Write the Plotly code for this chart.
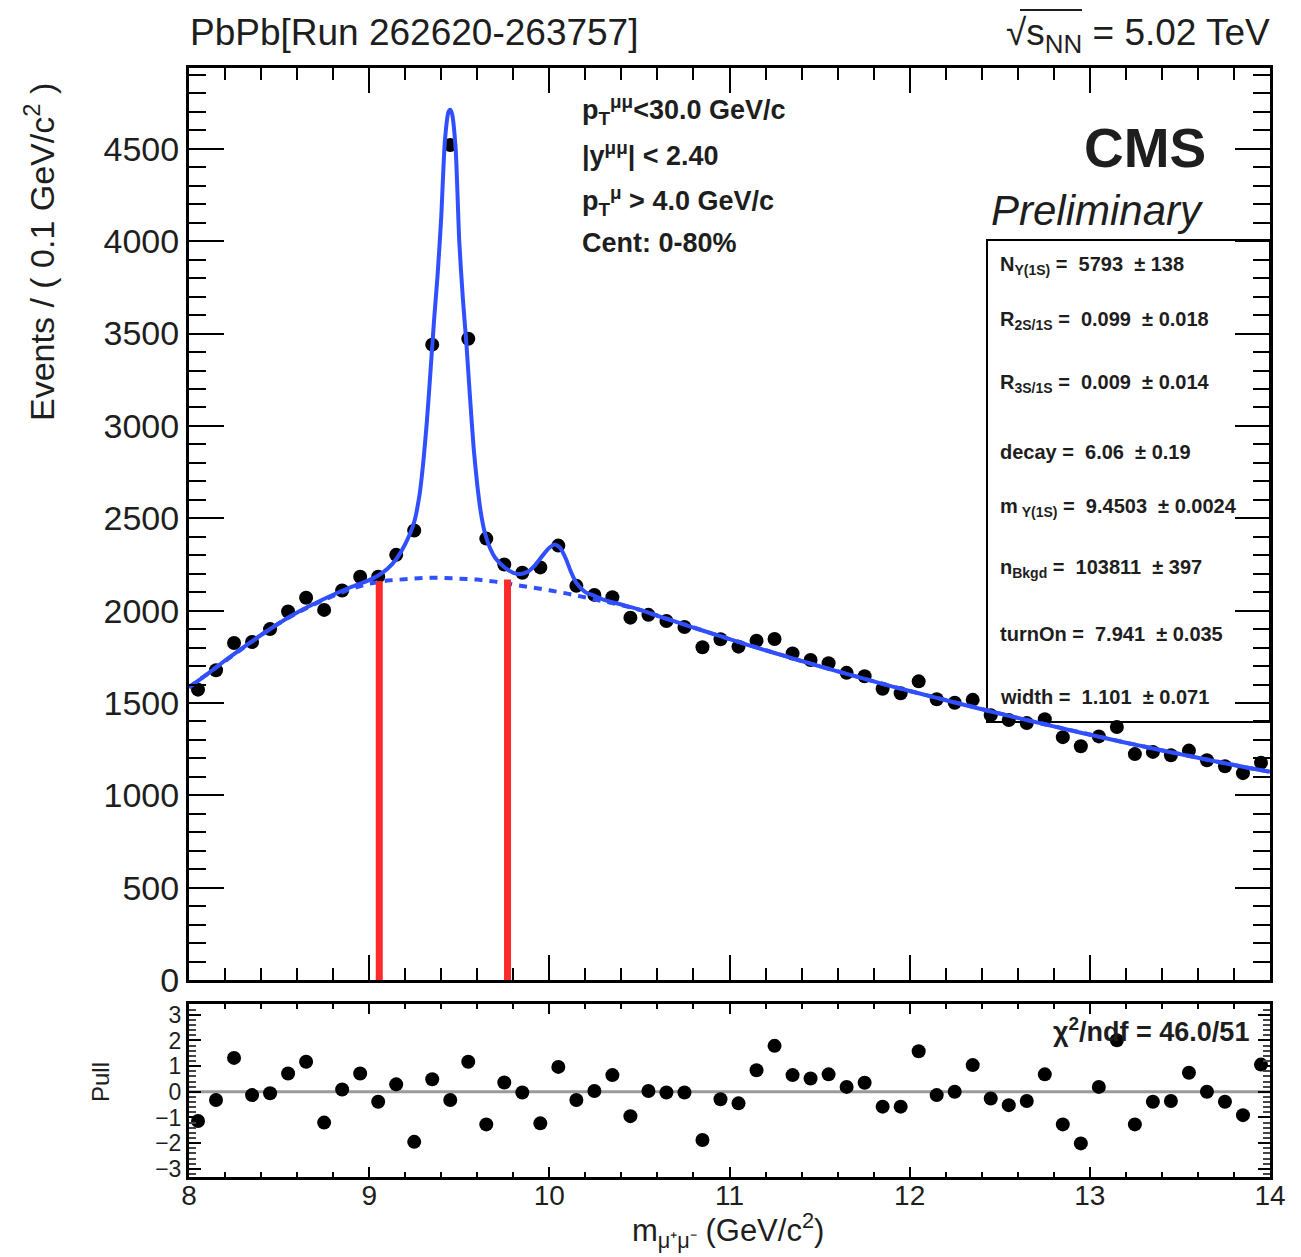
import plotly.graph_objects as go

# ---------------------------------------------------------------------------
# Data: dimuon invariant-mass spectrum (0.1 GeV/c^2 bins) with fit and pulls
# ---------------------------------------------------------------------------
mass = [8.05, 8.15, 8.25, 8.35, 8.45, 8.55, 8.65, 8.75, 8.85, 8.95,
        9.05, 9.15, 9.25, 9.35, 9.45, 9.55, 9.65, 9.75, 9.85, 9.95,
        10.05, 10.15, 10.25, 10.35, 10.45, 10.55, 10.65, 10.75, 10.85, 10.95,
        11.05, 11.15, 11.25, 11.35, 11.45, 11.55, 11.65, 11.75, 11.85, 11.95,
        12.05, 12.15, 12.25, 12.35, 12.45, 12.55, 12.65, 12.75, 12.85, 12.95,
        13.05, 13.15, 13.25, 13.35, 13.45, 13.55, 13.65, 13.75, 13.85, 13.95]

events = [1572, 1677, 1825, 1830, 1900, 1995, 2070, 2004, 2109, 2183,
          2184, 2302, 2434, 3440, 4521, 3472, 2390, 2250, 2205, 2234,
          2352, 2134, 2085, 2073, 1962, 1977, 1944, 1911, 1802, 1845,
          1805, 1837, 1846, 1768, 1733, 1715, 1663, 1645, 1577, 1553,
          1617, 1520, 1501, 1517, 1434, 1408, 1391, 1412, 1315, 1266,
          1319, 1370, 1223, 1235, 1217, 1242, 1190, 1157, 1120, 1176]

pulls = [-1.14, -0.32, 1.32, -0.13, -0.06, 0.71, 1.17, -1.20, 0.09, 0.71,
         -0.39, 0.29, -1.95, 0.49, -0.32, 1.17, -1.27, 0.36, -0.03, -1.23,
         0.97, -0.32, 0.03, 0.65, -0.95, 0.03, -0.03, -0.03, -1.88, -0.29,
         -0.45, 0.84, 1.79, 0.65, 0.52, 0.68, 0.19, 0.35, -0.58, -0.58,
         1.58, -0.13, 0.00, 1.04, -0.26, -0.52, -0.36, 0.68, -1.27, -2.01,
         0.19, 2.01, -1.27, -0.39, -0.36, 0.74, 0.00, -0.39, -0.91, 1.06]

# total fit (signal + background)
fit_mass = [8.00, 8.10, 8.20, 8.30, 8.40, 8.50, 8.60, 8.70, 8.80, 8.90,
            9.00, 9.05, 9.10, 9.15, 9.20, 9.25, 9.28, 9.30, 9.32, 9.34,
            9.36, 9.38, 9.40, 9.42, 9.44, 9.45, 9.46, 9.48, 9.50, 9.52,
            9.54, 9.56, 9.58, 9.60, 9.62, 9.64, 9.67, 9.70, 9.75, 9.80,
            9.84, 9.88, 9.92, 9.96, 10.00, 10.03, 10.06, 10.09, 10.12, 10.15,
            10.20, 10.25, 10.30, 10.40, 10.50, 10.60, 10.70, 10.80, 10.90,
            11.00, 11.10, 11.20, 11.30, 11.40, 11.50, 11.60, 11.70, 11.80, 11.90,
            12.00, 12.10, 12.20, 12.30, 12.40, 12.50, 12.60, 12.70, 12.80, 12.90,
            13.00, 13.10, 13.20, 13.30, 13.40, 13.50, 13.60, 13.70, 13.80, 13.90,
            14.00]
fit_total = [1585, 1655, 1730, 1800, 1868, 1932, 1990, 2040, 2086, 2128,
             2165, 2190, 2225, 2278, 2360, 2480, 2630, 2800, 3020, 3290,
             3570, 3820, 4130, 4540, 4700, 4712, 4690, 4500, 4000, 3690,
             3440, 3150, 2880, 2680, 2530, 2430, 2340, 2285, 2235, 2205,
             2198, 2210, 2245, 2295, 2340, 2358, 2340, 2285, 2210, 2150,
             2100, 2080, 2060, 2033, 2005, 1972, 1940, 1908, 1877,
             1846, 1815, 1785, 1756, 1727, 1699, 1671, 1644, 1617, 1590,
             1565, 1540, 1515, 1490, 1466, 1442, 1419, 1396, 1373, 1350,
             1328, 1306, 1285, 1264, 1243, 1223, 1203, 1183, 1164, 1145,
             1127]

# background component only
bkg_mass = [8.0, 8.1, 8.2, 8.3, 8.4, 8.5, 8.6, 8.7, 8.8, 8.9,
            9.0, 9.1, 9.2, 9.3, 9.4, 9.5, 9.6, 9.7, 9.8, 9.9,
            10.0, 10.1, 10.2, 10.3, 10.4, 10.5, 10.6, 10.7, 10.8, 10.9,
            11.0, 11.1, 11.2, 11.3, 11.4, 11.5, 11.6, 11.7, 11.8, 11.9,
            12.0, 12.1, 12.2, 12.3, 12.4, 12.5, 12.6, 12.7, 12.8, 12.9,
            13.0, 13.1, 13.2, 13.3, 13.4, 13.5, 13.6, 13.7, 13.8, 13.9,
            14.0]
bkg = [1585, 1655, 1730, 1800, 1868, 1932, 1988, 2036, 2080, 2118,
       2146, 2163, 2172, 2177, 2178, 2175, 2168, 2157, 2143, 2127,
       2110, 2092, 2073, 2053, 2030, 2005, 1972, 1940, 1908, 1877,
       1846, 1815, 1785, 1756, 1727, 1699, 1671, 1644, 1617, 1590,
       1565, 1540, 1515, 1490, 1466, 1442, 1419, 1396, 1373, 1350,
       1328, 1306, 1285, 1264, 1243, 1223, 1203, 1183, 1164, 1145,
       1127]

# integration window edges around the Upsilon(1S) peak
window_edges = [9.056, 9.768]
window_tops = [2160, 2168]

stat_lines = [
    "N<sub>Υ(1S)</sub> =  5793  ± 138",
    "R<sub>2S/1S</sub> =  0.099  ± 0.018",
    "R<sub>3S/1S</sub> =  0.009  ± 0.014",
    "decay =  6.06  ± 0.19",
    "m<sub> Υ(1S)</sub> =  9.4503  ± 0.0024",
    "n<sub>Bkgd</sub> =  103811  ± 397",
    "turnOn =  7.941  ± 0.035",
    "width =  1.101  ± 0.071",
]
cut_lines = [
    "p<sub>T</sub><sup>μμ</sup>&lt;30.0 GeV/c",
    "|y<sup>μμ</sup>| &lt; 2.40",
    "p<sub>T</sub><sup>μ</sup> &gt; 4.0 GeV/c",
    "Cent: 0-80%",
]

# ---------------------------------------------------------------------------
W, H = 1301, 1257
FONT = "Liberation Sans"
TXT = "#1e1e1e"
BLUE = "#3050ff"
RED = "#ff2b2b"


def fx(p):
    return p / W


def fy(p):
    return 1 - p / H


X_DOM = [fx(189), fx(1270)]
MAIN_DOM = [fy(980), fy(68)]
PULL_DOM = [fy(1177), fy(1004)]

fig = go.Figure()

# main panel
fig.add_trace(go.Scatter(x=mass, y=events, mode="markers",
                         marker=dict(color="black", size=14),
                         xaxis="x", yaxis="y", showlegend=False))
fig.add_trace(go.Scatter(x=bkg_mass, y=bkg, mode="lines",
                         line=dict(color=BLUE, width=4, dash="8px,7px"),
                         xaxis="x", yaxis="y", showlegend=False))
fig.add_trace(go.Scatter(x=fit_mass, y=fit_total, mode="lines",
                         line=dict(color=BLUE, width=4, shape="spline", smoothing=0.6),
                         xaxis="x", yaxis="y", showlegend=False))
for edge, top in zip(window_edges, window_tops):
    fig.add_trace(go.Scatter(x=[edge, edge], y=[0, top], mode="lines",
                             line=dict(color=RED, width=7),
                             xaxis="x", yaxis="y", showlegend=False))

# pull panel
fig.add_trace(go.Scatter(x=[8, 14], y=[0, 0], mode="lines",
                         line=dict(color="#9a9a9a", width=3),
                         xaxis="x2", yaxis="y2", showlegend=False))
fig.add_trace(go.Scatter(x=mass, y=pulls, mode="markers",
                         marker=dict(color="black", size=14),
                         xaxis="x2", yaxis="y2", showlegend=False))

frame = dict(showline=True, linecolor="black", linewidth=3, mirror="ticks",
             showgrid=False, zeroline=False, ticks="inside",
             tickcolor="black", tickwidth=2, automargin=False)

fig.update_layout(
    width=W, height=H,
    margin=dict(l=0, r=0, t=0, b=0, autoexpand=False),
    paper_bgcolor="white", plot_bgcolor="white",
    font=dict(family=FONT, color=TXT),
    xaxis=dict(domain=X_DOM, anchor="y", range=[8, 14], tick0=8, dtick=1,
               ticklen=25, showticklabels=False,
               minor=dict(dtick=0.2, ticklen=12, ticks="inside",
                          tickcolor="black", tickwidth=2),
               **frame),
    yaxis=dict(domain=MAIN_DOM, anchor="x", range=[0, 4938], tick0=0, dtick=500,
               ticklen=35, tickfont=dict(size=34, family=FONT, color=TXT),
               ticklabelstandoff=0,
               minor=dict(dtick=100, ticklen=17, ticks="inside",
                          tickcolor="black", tickwidth=2),
               **frame),
    xaxis2=dict(domain=X_DOM, anchor="y2", range=[8, 14], tick0=8, dtick=1,
                ticklen=10, tickfont=dict(size=28, family=FONT, color=TXT),
                ticklabelstandoff=-9,
                minor=dict(dtick=0.2, ticklen=5, ticks="inside",
                           tickcolor="black", tickwidth=2),
                **frame),
    yaxis2=dict(domain=PULL_DOM, anchor="x2", range=[-3.32, 3.42], tick0=0, dtick=1,
                ticklen=12, tickfont=dict(size=23, family=FONT, color=TXT),
                ticklabelstandoff=0,
                minor=dict(dtick=0.2, ticklen=7, ticks="inside",
                           tickcolor="#444", tickwidth=2),
                **frame),
)

# statistics box
fig.add_shape(type="rect", xref="paper", yref="paper",
              x0=fx(987), x1=fx(1270), y0=fy(722), y1=fy(240),
              line=dict(color="black", width=2), fillcolor="rgba(0,0,0,0)",
              layer="below")
# overline of the square-root sign
fig.add_shape(type="line", xref="paper", yref="paper",
              x0=fx(1020), x1=fx(1082), y0=fy(10), y1=fy(10),
              line=dict(color=TXT, width=2))

ann = []


def text(s, x, y, size, xanchor="left", bold=False, italic=False, angle=0):
    if bold:
        s = "<b>" + s + "</b>"
    if italic:
        s = "<i>" + s + "</i>"
    ann.append(dict(text=s, x=fx(x), y=fy(y), xref="paper", yref="paper",
                    xanchor=xanchor, yanchor="middle", showarrow=False,
                    textangle=angle, font=dict(size=size, family=FONT, color=TXT)))


text("PbPb[Run 262620-263757]", 188, 33, 37)
text("√s<sub>NN</sub> = 5.02 TeV", 1272, 35, 37, xanchor="right")
text("CMS", 1208, 148, 55, xanchor="right", bold=True)
text("Preliminary", 1206, 210, 42, xanchor="right", italic=True)

for s, yy in zip(cut_lines, [110, 154, 201, 243]):
    text(s, 580, yy, 27, bold=True)

for s, yy in zip(stat_lines, [265, 321, 383, 452, 508, 568, 634, 697]):
    text(s, 998, yy, 20, bold=True)

text("χ<sup>2</sup>/ndf = 46.0/51", 1251, 1030, 27, xanchor="right", bold=True)

text("Events / ( 0.1 GeV/c<sup>2</sup> )", 40, 252, 34, xanchor="center", angle=-90)
text("Pull", 100, 1082, 24, xanchor="center", angle=-90)
text("m<sub>μ⁺μ⁻</sub> (GeV/c<sup>2</sup>)", 728, 1230, 31, xanchor="center")

fig.update_layout(annotations=ann)

fig.write_html("out.html")
